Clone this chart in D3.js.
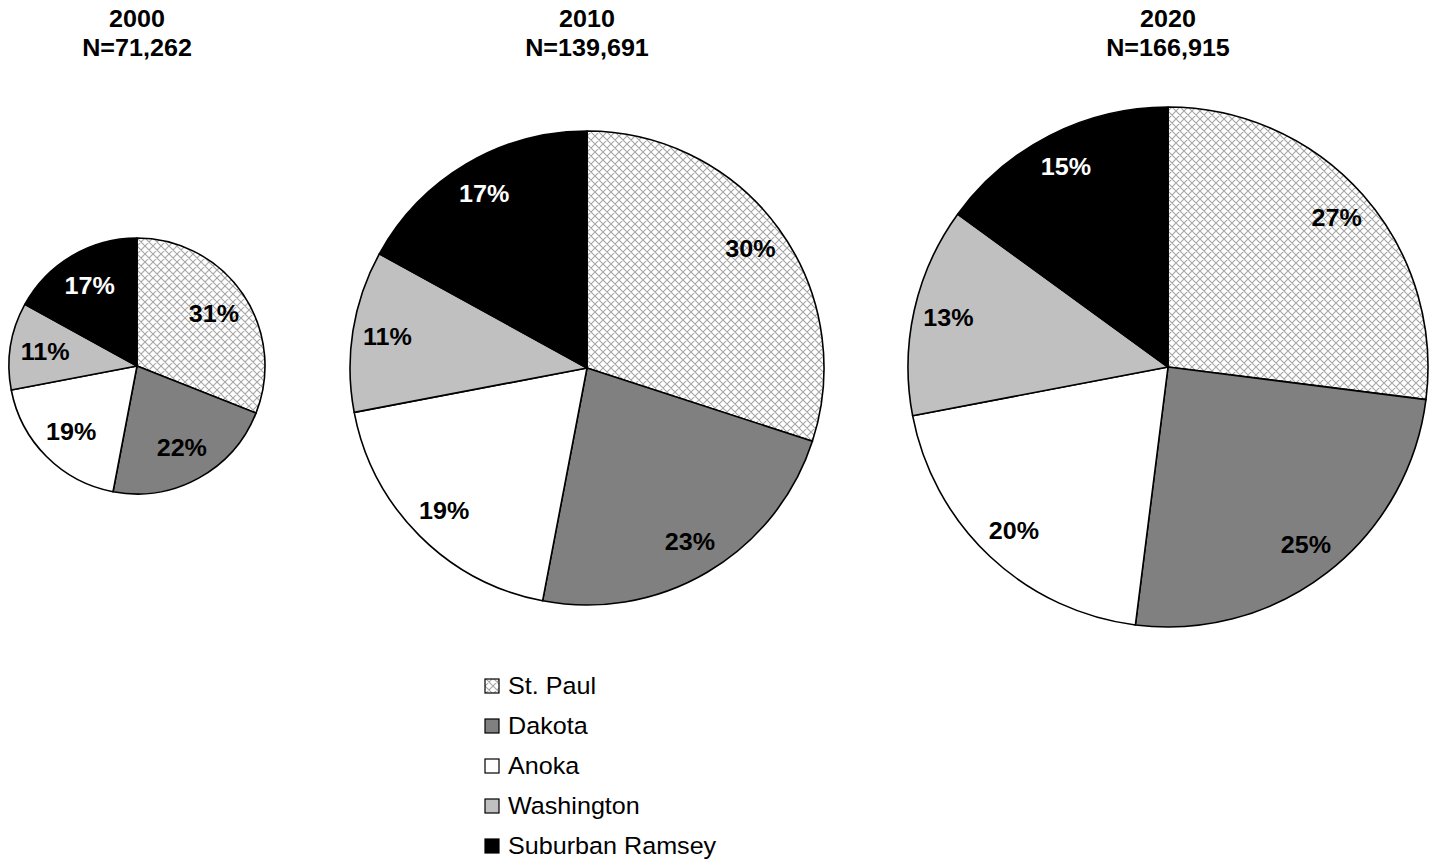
<!DOCTYPE html>
<html>
<head>
<meta charset="utf-8">
<script src="https://cdn.jsdelivr.net/npm/d3@7"></script>
<style>
  html, body { margin: 0; padding: 0; background: #fff; }
  svg { display: block; font-family: "Liberation Sans", Arial, sans-serif; }
</style>
</head>
<body>
<svg id="chart" width="1436" height="867"></svg>
<script>
// ---- Data ----
const categories = ["St. Paul", "Dakota", "Anoka", "Washington", "Suburban Ramsey"];
const years = ["2000", "2010", "2020"];
const totals = ["N=71,262", "N=139,691", "N=166,915"];
const values2000 = [31, 22, 19, 11, 17];
const values2010 = [30, 23, 19, 11, 17];
const values2020 = [27, 25, 20, 13, 15];
const seriesValues = [values2000, values2010, values2020];

// ---- Layout / style ----
const pieCx = [137, 587, 1168];
const pieCy = [366, 368, 367];
const pieR = [128, 237, 260];
const labelInset = 35;
const fontSize = 23.5;
const stretch = 1.07;
const fills = ["url(#hatch)", "#808080", "#ffffff", "#c0c0c0", "#000000"];
const labelColors = ["#000", "#000", "#000", "#000", "#fff"];

const svg = d3.select("#chart");
const defs = svg.append("defs");
const pat = defs.append("pattern")
  .attr("id", "hatch")
  .attr("patternUnits", "userSpaceOnUse")
  .attr("width", 8).attr("height", 8);
pat.append("rect").attr("width", 8).attr("height", 8).attr("fill", "#fff");
pat.append("path")
  .attr("d", "M0,0 L8,8 M8,0 L0,8 M-1,7 L1,9 M7,-1 L9,1 M-1,1 L1,-1 M7,9 L9,7")
  .attr("stroke", "#a6a6a6").attr("stroke-width", 1.1).attr("fill", "none");

const pie = d3.pie().sort(null).value(d => d);

function stretchedText(sel, x, y) {
  return sel.attr("transform", `translate(${x},${y}) scale(${stretch},1)`);
}

years.forEach((yr, i) => {
  const g = svg.append("g").attr("transform", `translate(${pieCx[i]},${pieCy[i]})`);
  const arc = d3.arc().innerRadius(0).outerRadius(pieR[i]);
  const labelArc = d3.arc().innerRadius(pieR[i] - labelInset).outerRadius(pieR[i] - labelInset);
  const arcs = pie(seriesValues[i]);
  g.selectAll("path.slice").data(arcs).join("path")
    .attr("class", "slice")
    .attr("d", arc)
    .attr("fill", (d, j) => fills[j])
    .attr("stroke", "#000")
    .attr("stroke-width", 1.6)
    .attr("stroke-linejoin", "round");
  g.selectAll("text.lbl").data(arcs).join("text")
    .attr("class", "lbl")
    .attr("transform", d => {
      const c = labelArc.centroid(d);
      return `translate(${c[0]},${c[1]}) scale(${stretch},1)`;
    })
    .attr("text-anchor", "middle")
    .attr("dominant-baseline", "central")
    .attr("font-size", fontSize)
    .attr("font-weight", "bold")
    .attr("fill", (d, j) => labelColors[j])
    .text(d => d.data + "%");

  stretchedText(svg.append("text"), pieCx[i], 27)
    .attr("text-anchor", "middle")
    .attr("font-size", fontSize).attr("font-weight", "bold").attr("fill", "#000")
    .text(yr);
  stretchedText(svg.append("text"), pieCx[i], 56)
    .attr("text-anchor", "middle")
    .attr("font-size", fontSize).attr("font-weight", "bold").attr("fill", "#000")
    .text(totals[i]);
});

// ---- Legend ----
const legY = d3.scalePoint().domain(categories).range([686, 846]);
const items = svg.append("g").selectAll("g").data(categories).join("g")
  .attr("transform", d => `translate(485,${legY(d)})`);
items.append("rect")
  .attr("x", 0).attr("y", -7).attr("width", 14).attr("height", 14)
  .attr("fill", (d, j) => fills[j])
  .attr("stroke", "#000").attr("stroke-width", 1.2);
items.append("text")
  .attr("transform", `translate(23,0) scale(${stretch},1)`)
  .attr("dominant-baseline", "central")
  .attr("font-size", fontSize)
  .attr("fill", "#000")
  .text(d => d);
</script>
</body>
</html>
